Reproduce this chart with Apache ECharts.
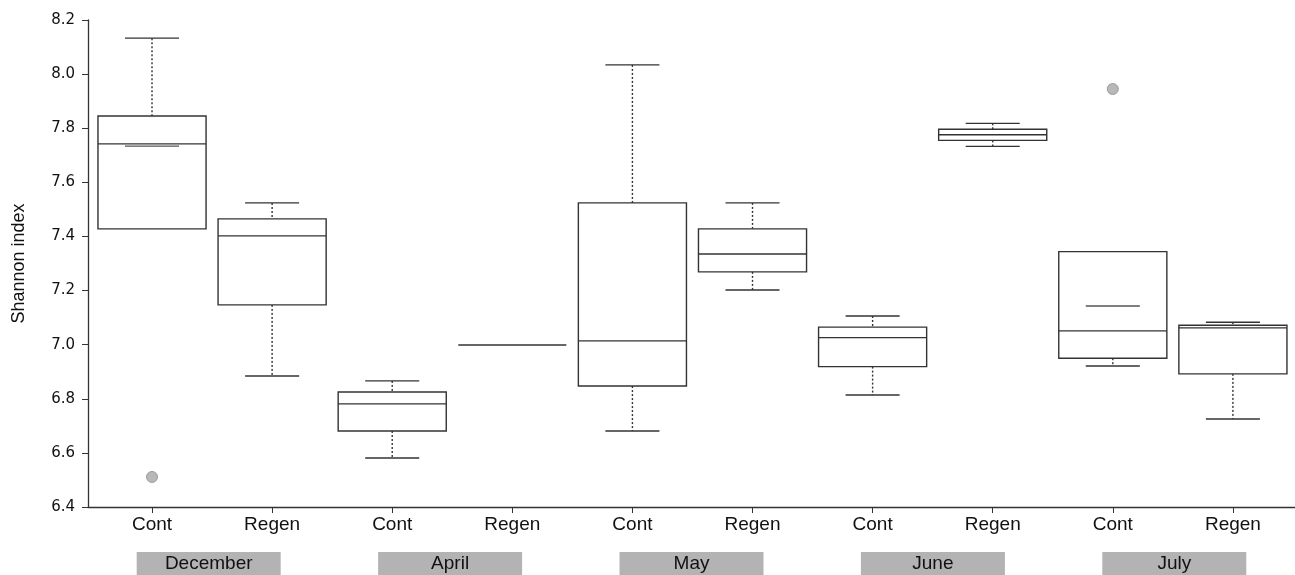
<!DOCTYPE html>
<html>
<head>
<meta charset="utf-8">
<script src="https://cdn.jsdelivr.net/npm/echarts@6/dist/echarts.min.js"></script>
<style>html,body{margin:0;padding:0;background:#fff}#c{width:1295px;height:575px}</style>
</head>
<body>
<div id="c"></div>
<script>
const categories = ['Cont','Regen','Cont','Regen','Cont','Regen','Cont','Regen','Cont','Regen'];
const months = ['December','April','May','June','July'];
const lows    = [7.428, 6.884, 6.581, 6.999, 6.681, 7.202, 6.814, 7.733, 6.921, 6.725];
const q1s     = [7.428, 7.147, 6.681, 6.999, 6.847, 7.269, 6.919, 7.755, 6.950, 6.892];
const medians = [7.742, 7.402, 6.781, 6.999, 7.014, 7.335, 7.026, 7.776, 7.051, 7.062];
const q3s     = [7.845, 7.465, 6.825, 6.999, 7.524, 7.428, 7.065, 7.796, 7.344, 7.072];
const highs   = [8.133, 7.524, 6.866, 6.999, 8.034, 7.524, 7.106, 7.818, 7.344, 7.083];
const means   = [7.734, null, null, null, null, null, null, null, 7.143, null];
const outliers = [[0, 6.511], [8, 7.945]];

const boxData = categories.map((c, i) => [i, lows[i], q1s[i], medians[i], q3s[i], highs[i], means[i] == null ? NaN : means[i]]);
const stroke = '#333';

function renderItem(params, api) {
  const x = api.value(0);
  const unit = api.size([1, 0])[0];
  const bw = unit * 0.9, cw = unit * 0.45;
  const lo = api.value(1), q1 = api.value(2), md = api.value(3), q3 = api.value(4), hi = api.value(5), mn = api.value(6);
  const p = v => api.coord([x, v]);
  const children = [];
  const solid = { stroke: stroke, lineWidth: 1.4, fill: null };
  const dotted = { stroke: stroke, lineWidth: 1.4, lineDash: [2, 2], fill: null };
  const hline = (v, w, st) => { const c = p(v); return { type: 'line', shape: { x1: c[0] - w / 2, y1: c[1], x2: c[0] + w / 2, y2: c[1] }, style: st }; };
  if (hi > q3) {
    const a = p(hi), b = p(q3);
    children.push({ type: 'line', shape: { x1: a[0], y1: a[1], x2: b[0], y2: b[1] }, style: dotted });
    children.push(hline(hi, cw, solid));
  }
  if (lo < q1) {
    const a = p(q1), b = p(lo);
    children.push({ type: 'line', shape: { x1: a[0], y1: a[1], x2: b[0], y2: b[1] }, style: dotted });
    children.push(hline(lo, cw, solid));
  }
  const t = p(q3), bt = p(q1);
  if (bt[1] - t[1] > 0.5) {
    children.push({ type: 'rect', shape: { x: t[0] - bw / 2, y: t[1], width: bw, height: bt[1] - t[1] }, style: { stroke: stroke, lineWidth: 1.4, fill: '#fff' } });
  }
  children.push(hline(md, bw, solid));
  if (!isNaN(mn)) children.push(hline(mn, cw, { stroke: '#555', lineWidth: 1.4 }));
  return { type: 'group', children: children };
}

const chart = echarts.init(document.getElementById('c'), null, { renderer: 'canvas' });
chart.setOption({
  animation: false,
  backgroundColor: '#fff',
  grid: { left: 88, right: 0, top: 20, bottom: 68 },
  xAxis: [{
    type: 'value', min: -0.533, max: 9.517,
    axisLine: { show: true, onZero: false, lineStyle: { color: '#333', width: 1.3 } },
    axisTick: { show: true, customValues: categories.map((c, i) => i), length: 6, lineStyle: { color: '#333' } },
    axisLabel: { customValues: categories.map((c, i) => i), formatter: v => categories[Math.round(v)], fontSize: 19, color: '#111', fontFamily: 'Liberation Sans', margin: 8 },
    splitLine: { show: false }
  }, {
    type: 'category', data: months, position: 'bottom',
    axisLine: { show: false }, axisTick: { show: false },
    axisLabel: { margin: 45, fontSize: 19, color: '#111', fontFamily: 'Liberation Sans', backgroundColor: '#b3b3b3', width: 144, height: 23, lineHeight: 23, align: 'center', verticalAlign: 'top', interval: 0 }
  }],
  yAxis: {
    type: 'value', min: 6.4, max: 8.2, interval: 0.2,
    name: 'Shannon index', nameLocation: 'middle', nameGap: 60,
    nameTextStyle: { fontSize: 18, color: '#111', fontFamily: 'Liberation Sans' },
    axisLine: { show: true, onZero: false, lineStyle: { color: '#333', width: 1.3 } },
    axisTick: { show: true, length: 6, lineStyle: { color: '#333' } },
    axisLabel: { formatter: v => v.toFixed(1), fontSize: 15, color: '#111', fontFamily: 'DejaVu Sans', margin: 13 },
    splitLine: { show: false }
  },
  series: [{
    type: 'custom', renderItem: renderItem, data: boxData,
    encode: { x: 0, y: [1, 2, 3, 4, 5] }, xAxisIndex: 0
  }, {
    type: 'scatter', data: outliers, symbolSize: 11, xAxisIndex: 0,
    itemStyle: { color: '#a6a6a6', borderColor: '#8c8c8c', borderWidth: 1 }
  }]
});
</script>
</body>
</html>
